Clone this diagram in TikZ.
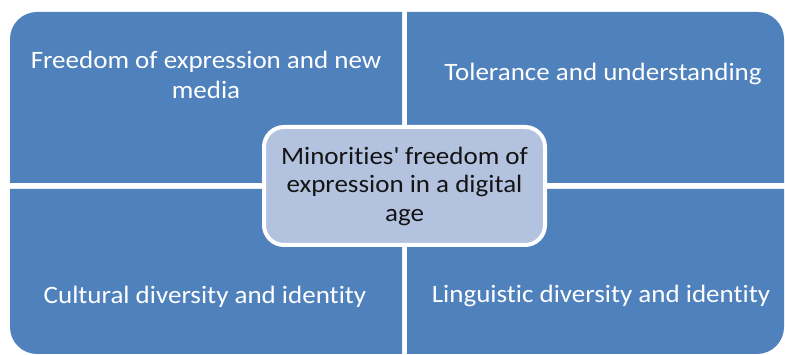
\documentclass[tikz,border=0pt]{standalone}
\usepackage{fontspec}
\setmainfont{Carlito}[Ligatures={NoCommon}, FakeStretch=1.08]
\definecolor{quadblue}{HTML}{4F81BD}
\definecolor{centerfill}{HTML}{B3C2DF}
\definecolor{centertext}{HTML}{141414}
\tikzset{
  quad/.style={fill=quadblue},
  quadtext/.style={text=white, font=\fontsize{25}{30}\selectfont, align=center},
  hub/.style={draw=white, line width=4pt, fill=centerfill, rounded corners=20pt,
    minimum width=281pt, minimum height=118pt, text=centertext,
    font=\fontsize{25}{28.5}\selectfont, align=center}
}
\begin{document}
\begin{tikzpicture}[x=1pt,y=1pt]
\useasboundingbox (0,0) rectangle (785,355);
\fill[white] (0,0) rectangle (785,355);
% quadrants
\fill[quad] (10,172) -- (10,316) arc[start angle=180,end angle=90,radius=27] -- (402,343) -- (402,172) -- cycle;
\fill[quad] (407,172) -- (407,343) -- (757,343) arc[start angle=90,end angle=0,radius=27] -- (784,172) -- cycle;
\fill[quad] (10,166) -- (402,166) -- (402,1) -- (37,1) arc[start angle=270,end angle=180,radius=27] -- cycle;
\fill[quad] (407,166) -- (784,166) -- (784,28) arc[start angle=0,end angle=-90,radius=27] -- (407,1) -- cycle;
% texts
\node[quadtext] (tl) at (206,280) {Freedom of expression and new\\media};
\node[quadtext] (tr) at (603,281) {Tolerance and understanding};
\node[quadtext] (bl) at (205,58) {Cultural diversity and identity};
\node[quadtext] (br) at (601,59) {Linguistic diversity and identity};
% hub
\node[hub] (hub) at (404.5,169) {Minorities\textquotesingle{} freedom of\\expression in a digital\\age};
\end{tikzpicture}
\end{document}
